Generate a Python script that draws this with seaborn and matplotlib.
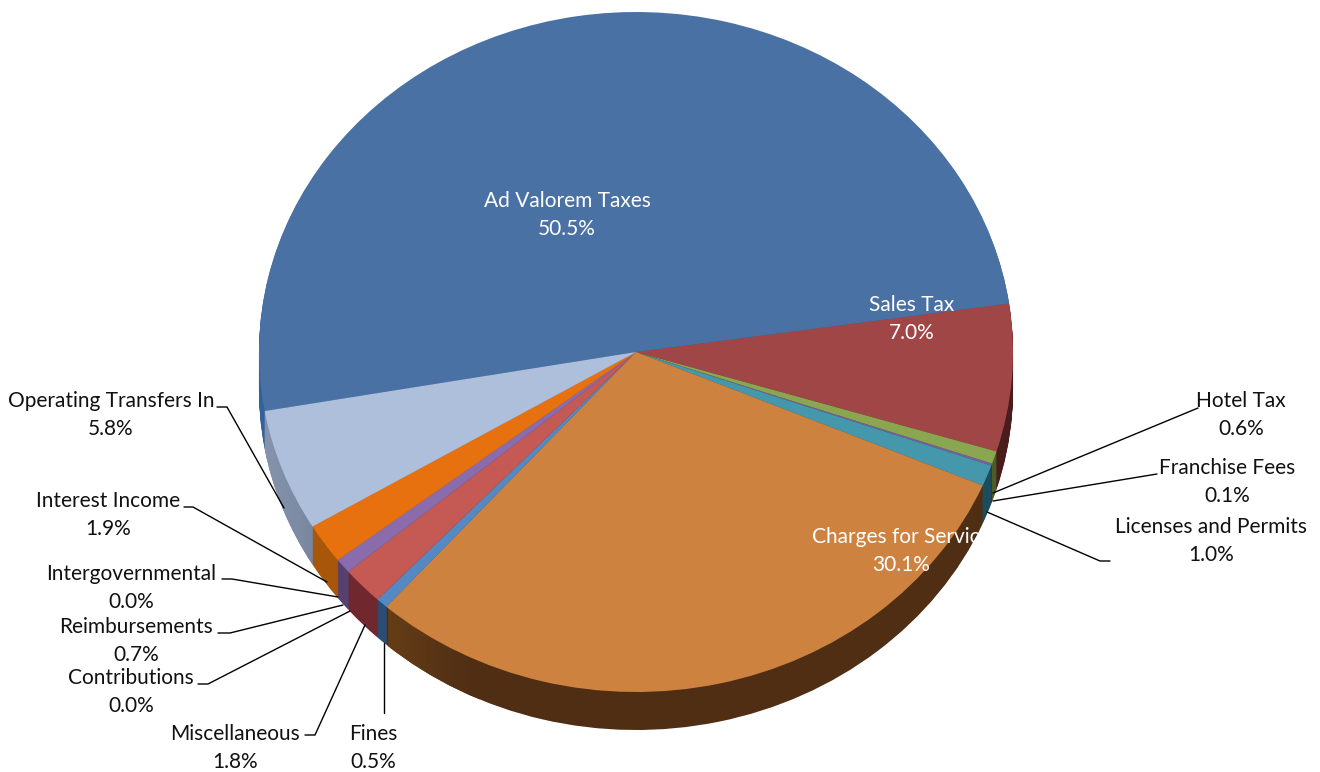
import matplotlib
matplotlib.use("Agg")
import numpy as np
import seaborn as sns
import matplotlib.pyplot as plt
from matplotlib.colors import LinearSegmentedColormap

categories = ["Ad Valorem Taxes", "Sales Tax", "Hotel Tax", "Franchise Fees",
              "Licenses and Permits", "Charges for Service", "Fines",
              "Miscellaneous", "Contributions", "Reimbursements",
              "Intergovernmental", "Interest Income", "Operating Transfers In"]
shares = [50.5, 7.0, 0.6, 0.1, 1.0, 30.1, 0.5, 1.8, 0.0, 0.7, 0.0, 1.9, 5.8]

top_colors = ["#4a71a4", "#a04646", "#8aa650", "#7b5fa0", "#4598ac", "#ce823f", "#5589c4",
              "#c55a55", "#c55a55", "#8a6bab", "#8a6bab", "#e8710f", "#aebfdc"]
side_colors = ["#33619a", "#4a1c1c", "#4a5e25", "#3c2c55", "#1d4c5c", "#4f2e14", "#2a4d75",
               "#70282e", "#70282e", "#554070", "#554070", "#a8560a", "#7d8ca6"]

# label centres in pixels, same order as categories
label_x = [567, 912, 1241, 1227, 1211, 901, 373, 235, 131, 136, 131, 108, 111]
label_y = [215, 319, 415, 482, 541, 551, 748, 748, 692, 641, 588, 515, 415]

leaders = [
    [(1198, 408), (993, 493)],
    [(1157, 474), (993, 501)],
    [(1110, 561), (1100, 561), (987, 512)],
    [(384, 713), (384, 643)],
    [(305, 735), (315, 735), (365, 625)],
    [(198, 684), (208, 684), (350, 611)],
    [(218, 633), (230, 633), (343, 605)],
    [(222, 579), (232, 579), (338, 597)],
    [(184, 507), (193, 507), (327, 582)],
    [(217, 407), (227, 407), (284, 508)],
]

W, H = 1320, 772
CX, CY, RX, RY = 636, 352, 377, 340
DEPTH = 38

sns.set_theme(style="white")
plt.rcParams["font.family"] = ["Lato", "DejaVu Sans"]

fig = plt.figure(figsize=(W / 100, H / 100), dpi=100, facecolor="white")
ax = fig.add_axes([0, 0, 1, 1])


def draw_pie(colors, offset=0):
    wedges, _ = ax.pie(shares, colors=sns.color_palette(colors), startangle=190, counterclock=False,
                       center=(0, -offset / RY), wedgeprops={"linewidth": 0})
    return wedges


def shade(wedge, x0, x1, y0, y1, c0, c1):
    # left-to-right fade, clipped to one wedge of the side wall
    cmap = LinearSegmentedColormap.from_list("side", [c0, c1])
    im = ax.imshow(np.linspace(0, 1, 128).reshape(1, -1), cmap=cmap, aspect="auto",
                   zorder=wedge.get_zorder(),
                   extent=[(x0 - CX) / RX, (x1 - CX) / RX, (CY - y1) / RY, (CY - y0) / RY])
    im.set_clip_path(wedge)


# side wall: the same pie stacked downwards, then the top face
for k in range(DEPTH, 0, -1):
    side = draw_pie(side_colors, k)
    for w in side:
        w.set_zorder(1 + (DEPTH - k) * 0.01)
    shade(side[5], 388, 480, 600, 735, "#6b4119", "#4f2e14")
    shade(side[12], 259, 316, 400, 570, "#8f9db6", "#76849c")

top = draw_pie(top_colors)
for w in top:
    w.set_zorder(2)

ax.set_aspect("auto")
ax.set_xlim(-CX / RX, (W - CX) / RX)
ax.set_ylim((CY - H) / RY, CY / RY)
ax.axis("off")

over = fig.add_axes([0, 0, 1, 1])
over.set_xlim(0, W)
over.set_ylim(H, 0)
over.axis("off")
over.patch.set_alpha(0)

for pts in leaders:
    xs, ys = zip(*pts)
    over.plot(xs, ys, color="black", lw=1.0, solid_joinstyle="miter")

for i, (name, val) in enumerate(zip(categories, shares)):
    inside = i in (0, 1, 5)
    t = over.text(label_x[i], label_y[i], f"{name}\n{val:.1f}%", ha="center", va="center",
                  fontsize=15, linespacing=1.54, color="white" if inside else "#111111")
    if i == 5:
        # the long label is cut off at the edge of its slice
        t.set_clip_path(top[5])
        t.set_clip_on(True)

fig.savefig("out.png", dpi=100)
